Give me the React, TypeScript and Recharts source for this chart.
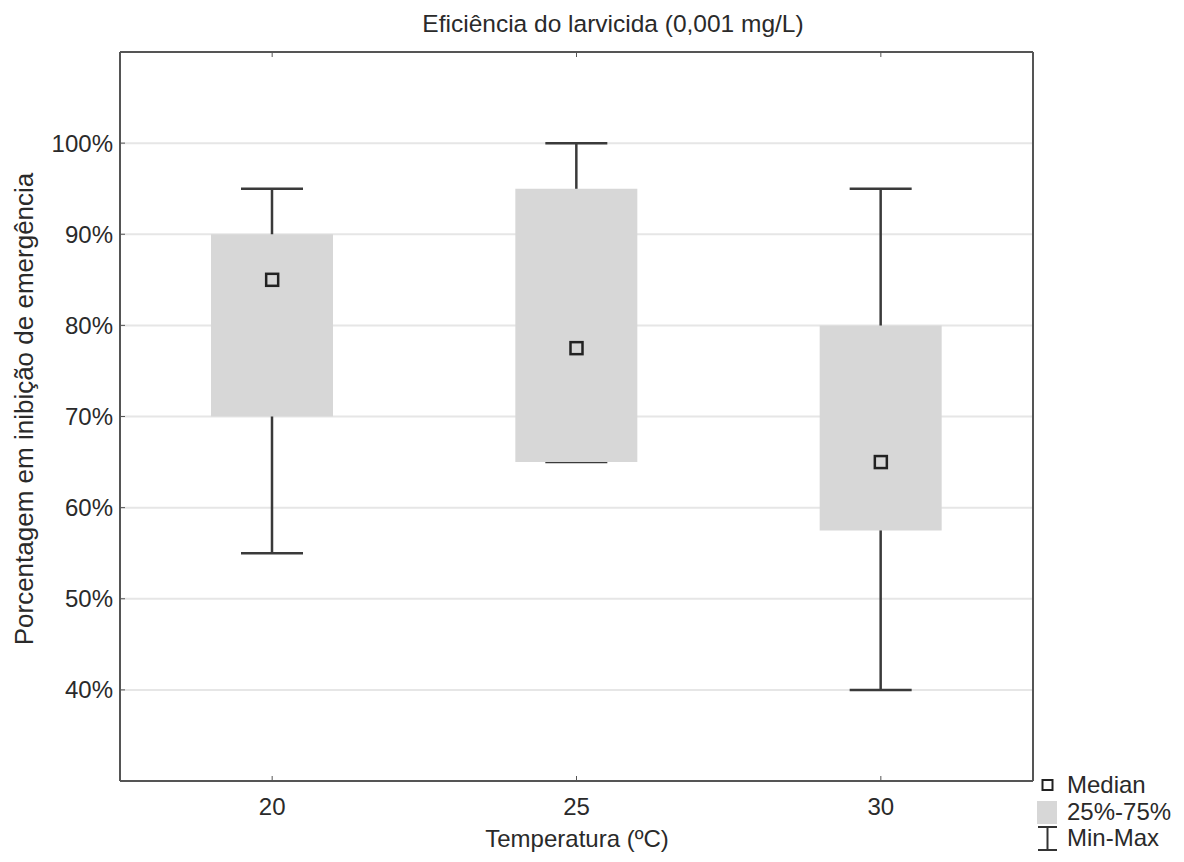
import React from 'react';
import { ComposedChart, Bar, Line, XAxis, YAxis, CartesianGrid, Legend } from 'recharts';

const temperatures = ['20', '25', '30'];
const minValues = [55, 65, 40];
const q1Values = [70, 65, 57.5];
const medianValues = [85, 77.5, 65];
const q3Values = [90, 95, 80];
const maxValues = [95, 100, 95];
const yTicks = [40, 50, 60, 70, 80, 90, 100];
const legendLabels = ['Median', '25%-75%', 'Min-Max'];

const data = temperatures.map((t, i) => ({
  temp: t,
  range: [minValues[i], maxValues[i]],
  box: [q1Values[i], q3Values[i]],
  median: medianValues[i],
}));

const FONT = '"Liberation Sans", Arial, Helvetica, sans-serif';
const INK = '#2a2a2a';
const FRAME = '#555555';
const BOX_FILL = '#d7d7d7';

// min-max whisker: stem plus two caps spanning the bar width
function Whisker(props: any) {
  const { x, y, width, height } = props;
  const cx = x + width / 2;
  return (
    <g stroke="#3a3a3a" strokeWidth={2.5}>
      <line x1={cx} x2={cx} y1={y} y2={y + height} />
      <line x1={x} x2={x + width} y1={y} y2={y} />
      <line x1={x} x2={x + width} y1={y + height} y2={y + height} />
    </g>
  );
}

function MedianDot(props: any) {
  const { cx, cy } = props;
  if (cx == null || cy == null) return null;
  return (
    <rect x={cx - 6} y={cy - 6} width={12} height={12} fill="none" stroke="#222" strokeWidth={2.5} />
  );
}

function FixedText(props: any) {
  const { px, py, text, size, rotate } = props;
  return (
    <text
      x={0}
      y={0}
      transform={`translate(${px},${py})${rotate ? ` rotate(${rotate})` : ''}`}
      textAnchor="middle"
      fontFamily={FONT}
      fontSize={size}
      fill={INK}
    >
      {text}
    </text>
  );
}

function LegendBox() {
  const row = { display: 'flex', alignItems: 'center', height: 26.5 } as const;
  return (
    <div style={{ fontFamily: FONT, fontSize: 24, color: INK, lineHeight: '26px' }}>
      <div style={row}>
        <svg width={30} height={26} style={{ marginRight: 3 }}>
          <rect x={8.5} y={8} width={10} height={10} fill="#fff" stroke="#222" strokeWidth={2} />
        </svg>
        {legendLabels[0]}
      </div>
      <div style={row}>
        <svg width={30} height={26} style={{ marginRight: 3 }}>
          <rect x={3} y={2} width={20} height={23} fill={BOX_FILL} />
        </svg>
        {legendLabels[1]}
      </div>
      <div style={row}>
        <svg width={30} height={26} style={{ marginRight: 3 }}>
          <g stroke="#333" strokeWidth={2}>
            <line x1={13.5} x2={13.5} y1={2} y2={25} />
            <line x1={4} x2={23} y1={2} y2={2} />
            <line x1={4} x2={23} y1={25} y2={25} />
          </g>
        </svg>
        {legendLabels[2]}
      </div>
    </div>
  );
}

export default function App() {
  return (
    <div style={{ position: 'absolute', left: 0, top: 0, width: 1184, height: 862, background: '#fff' }}>
      <ComposedChart
        width={1184}
        height={862}
        data={data}
        margin={{ top: 51, right: 150, bottom: 0, left: 0 }}
      >
        <CartesianGrid vertical={false} stroke="#e6e6e6" strokeWidth={2} />
        <XAxis
          dataKey="temp"
          height={81}
          axisLine={{ stroke: FRAME, strokeWidth: 2 }}
          tickLine={{ stroke: FRAME }}
          tickSize={-5}
          tickMargin={22}
          tick={{ fill: INK, fontSize: 24, fontFamily: FONT }}
          label={<FixedText px={577} py={847} size={24} text="Temperatura (ºC)" />}
        />
        <XAxis
          xAxisId="top"
          dataKey="temp"
          orientation="top"
          height={1}
          axisLine={{ stroke: FRAME, strokeWidth: 2 }}
          tickLine={{ stroke: FRAME }}
          tickSize={-5}
          tickFormatter={() => ''}
          label={<FixedText px={613} py={32} size={24.5} text="Eficiência do larvicida (0,001 mg/L)" />}
        />
        <YAxis
          domain={[30, 110]}
          ticks={yTicks}
          width={120}
          axisLine={{ stroke: FRAME, strokeWidth: 2 }}
          tickLine={{ stroke: FRAME }}
          tickSize={-5}
          tickMargin={12}
          tickFormatter={(v: number) => `${v}%`}
          tick={{ fill: INK, fontSize: 24, fontFamily: FONT }}
          label={
            <FixedText px={33} py={409} size={26} rotate={-90} text="Porcentagem em inibição de emergência" />
          }
        />
        <YAxis
          yAxisId="right"
          orientation="right"
          width={1}
          domain={[30, 110]}
          ticks={yTicks}
          axisLine={{ stroke: FRAME, strokeWidth: 2 }}
          tickLine={{ stroke: FRAME }}
          tickSize={-5}
          tickFormatter={() => ''}
        />
        <Bar dataKey="range" barSize={62} shape={<Whisker />} isAnimationActive={false} legendType="none" />
        <Bar xAxisId="top" dataKey="box" barSize={122} fill={BOX_FILL} isAnimationActive={false} legendType="none" />
        <Line
          dataKey="median"
          stroke="none"
          dot={<MedianDot />}
          activeDot={false}
          isAnimationActive={false}
          legendType="none"
        />
        <Legend
          layout="vertical"
          align="center"
          verticalAlign="middle"
          content={<LegendBox />}
          wrapperStyle={{ left: 1034, top: 772, width: 150 }}
        />
      </ComposedChart>
    </div>
  );
}
